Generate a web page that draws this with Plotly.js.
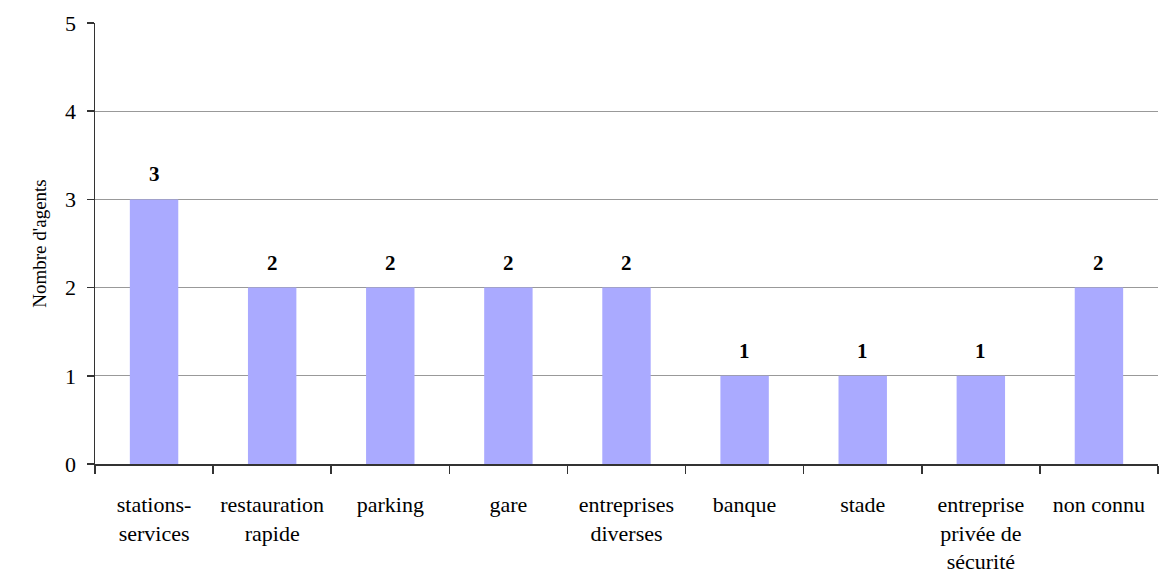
<!DOCTYPE html>
<html>
<head>
<meta charset="utf-8">
<script src="https://cdn.plot.ly/plotly-3.0.1.min.js"></script>
<style>html,body{margin:0;padding:0;background:#fff;}#chart{width:1160px;height:578px;}</style>
</head>
<body>
<div id="chart"></div>
<script>
const categories = ["stations-<br>services", "restauration<br>rapide", "parking", "gare", "entreprises<br>diverses", "banque", "stade", "entreprise<br>privée de<br>sécurité", "non connu"];
const values = [3, 2, 2, 2, 2, 1, 1, 1, 2];
const yTitle = "Nombre d'agents";

const font = "Liberation Serif";

const trace = {
  type: "bar",
  x: categories,
  y: values,
  marker: {color: "#aaaaff", line: {width: 0}},
  width: 0.41,
  hoverinfo: "skip"
};

const annotations = categories.map((c, i) => ({
  x: c, y: values[i], xref: "x", yref: "y",
  text: "<b>" + values[i] + "</b>",
  showarrow: false, yanchor: "bottom", yshift: 11,
  font: {family: font, size: 21, color: "#000"}
}));

const layout = {
  width: 1160, height: 578,
  margin: {l: 95, r: 2, t: 23, b: 114},
  paper_bgcolor: "#fff", plot_bgcolor: "#fff",
  showlegend: false,
  font: {family: font, color: "#000"},
  xaxis: {
    type: "category",
    tickson: "boundaries",
    ticks: "outside", ticklen: 8, tickcolor: "#333", tickwidth: 1.5,
    showline: true, linecolor: "#333", linewidth: 1.5,
    showgrid: false,
    tickfont: {family: font, size: 22, color: "#000"},
    ticklabelstandoff: 20,
    range: [-0.5, 8.5]
  },
  yaxis: {
    range: [0, 5], dtick: 1,
    ticks: "outside", ticklen: 7, tickcolor: "#333", tickwidth: 1.5,
    showline: true, linecolor: "#333", linewidth: 1.5,
    showgrid: true, gridcolor: "#999", gridwidth: 1,
    zeroline: false,
    tickfont: {family: font, size: 22, color: "#000"},
    ticklabelstandoff: 6,
    title: {text: yTitle, font: {family: font, size: 19, color: "#000"}, standoff: 13}
  },
  annotations: annotations
};

Plotly.newPlot("chart", [trace], layout, {displayModeBar: false, staticPlot: true});
</script>
</body>
</html>
